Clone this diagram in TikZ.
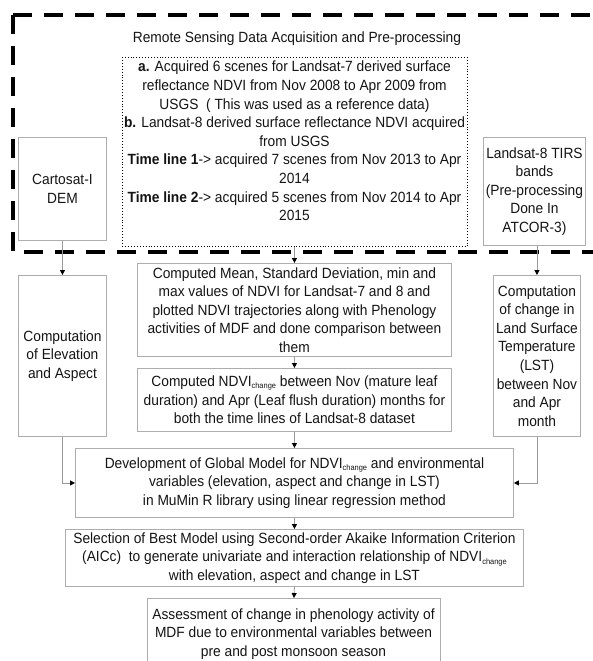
\documentclass[tikz,border=0pt]{standalone}
\usepackage{fontspec}
\setmainfont[FakeStretch=0.93]{Liberation Sans}
\usetikzlibrary{arrows.meta,calc}
\newcommand\chg{\raisebox{-0.3ex}{\fontsize{8}{8}\selectfont change}}
\tikzset{
  box/.style={draw=black!32, line width=0.9pt, fill=white, inner sep=0pt, align=center, anchor=north west, text=black!92},
  txt/.style={inner sep=0pt, align=center, text=black!92},
  arr/.style={draw=black!40, line width=0.8pt, -{Triangle[length=5pt,width=5pt,color=black]}},
  ln/.style={draw=black!40, line width=0.8pt},
}
\begin{document}
\begin{tikzpicture}[x=1pt,y=-1pt,font=\fontsize{14.8}{18.6}\selectfont]
\useasboundingbox (0,0) rectangle (593,661);
\clip (0,0) rectangle (593,661);
\fill[white] (0,0) rectangle (593,661);

% dashed group
\draw[line width=3.2pt, dash pattern=on 19pt off 12pt] (13,15) -- (13,252) -- (620,252);
\draw[line width=3.2pt, dash pattern=on 19pt off 12pt] (13,15) -- (620,15);
\node[txt] (title) at (297,39) {Remote Sensing Data Acquisition and Pre-processing};

% dotted acquisition box
\node[box, draw=black, line width=0.9pt, dotted, minimum width=345pt, minimum height=189pt] (acq) at (122,57) {};
\node[txt] (acqtxt) at (294.5,141) {\textbf{a.} Acquired 6 scenes for Landsat-7 derived surface\\
reflectance NDVI from Nov 2008 to Apr 2009 from\\
USGS\ \ ( This was used as a reference data)\\
\textbf{b.} Landsat-8 derived surface reflectance NDVI acquired\\
from USGS\\
\textbf{Time line 1}-> acquired 7 scenes from Nov 2013 to Apr\\
2014\\
\textbf{Time line 2}-> acquired 5 scenes from Nov 2014 to Apr\\
2015};

% side input boxes
\node[box, minimum width=88pt, minimum height=103pt] (dem) at (18,137) {Cartosat-I\\DEM};
\node[box, minimum width=102pt, minimum height=108pt] (tirs) at (483,137) {Landsat-8 TIRS\\bands\\(Pre-processing\\Done In\\ATCOR-3)};

% processing boxes
\node[box, minimum width=88pt, minimum height=161pt] (elev) at (18,275) {Computation\\of Elevation\\and Aspect};
\node[box, minimum width=87pt, minimum height=161pt] (lst) at (493,275) {Computation\\of change in\\Land Surface\\Temperature\\(LST)\\between Nov\\and Apr\\month};
\node[box, minimum width=314pt, minimum height=93pt] (stats) at (137,263) {Computed Mean, Standard Deviation, min and\\max values of NDVI for Landsat-7 and 8 and\\plotted NDVI trajectories along with Phenology\\activities of MDF and done comparison between\\them};
\node[box, minimum width=314pt, minimum height=63pt] (ndvi) at (137,368) {Computed NDVI\chg{} between Nov (mature leaf\\duration) and Apr (Leaf flush duration) months for\\both the time lines of Landsat-8 dataset};
\node[box, minimum width=438pt, minimum height=69pt] (global) at (75,448) {Development of Global Model for NDVI\chg{} and environmental\\variables (elevation, aspect and change in LST)\\in MuMin R library using linear regression method};
\node[box, minimum width=458pt, minimum height=57pt] (select) at (65,529) {Selection of Best Model using Second-order Akaike Information Criterion\\(AICc)\ \ to generate univariate and interaction relationship of NDVI\chg\\with elevation, aspect and change in LST};
\node[box, minimum width=293pt, minimum height=72pt] (assess) at (147,598) {};
\node[txt] (assesstxt) at (293.5,634) {Assessment of change in phenology activity of\\MDF due to environmental variables between\\pre and post monsoon season};

% connectors
\draw[arr] (acq.south -| stats.north) -- (stats.north);
\draw[arr] (stats.south) -- (ndvi.north);
\draw[arr] (ndvi.south) -- (global.north);
\draw[arr] (global.south) -- (select.north);
\draw[arr] (select.south) -- (assess.north);
\draw[arr] (dem.south) -- (elev.north);
\draw[arr] (tirs.south -| lst.north) -- (lst.north);
\draw[arr] (elev.south) |- (global.west);
\draw[arr] (lst.south) |- (global.east);
\end{tikzpicture}
\end{document}
